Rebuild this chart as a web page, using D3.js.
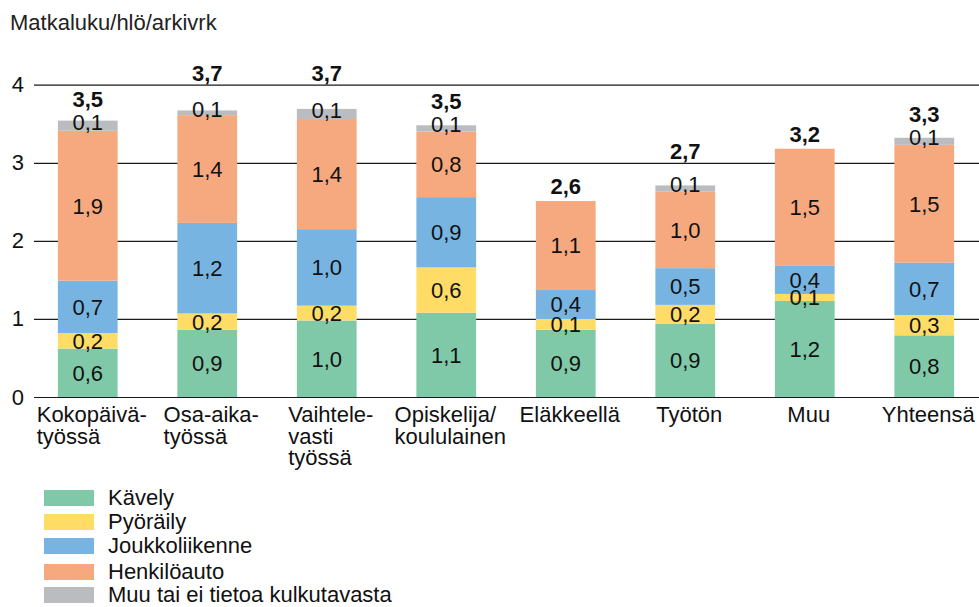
<!DOCTYPE html>
<html>
<head>
<meta charset="utf-8">
<script src="https://cdn.jsdelivr.net/npm/d3@7"></script>
<style>
  body { margin: 0; background: #fff; }
  svg text { font-family: "Liberation Sans", Arial, sans-serif; fill: #111; }
</style>
</head>
<body>
<svg id="chart" width="979" height="607"></svg>
<script>
// categories (line breaks as in the original)
var categories = [
	["Kokopäivä-", "työssä"],
	["Osa-aika-", "työssä"],
	["Vaihtele-", "vasti", "työssä"],
	["Opiskelija/", "koululainen"],
	["Eläkkeellä"],
	["Työtön"],
	["Muu"],
	["Yhteensä"]
];
var seriesNames = ["Kävely", "Pyöräily", "Joukkoliikenne", "Henkilöauto", "Muu tai ei tietoa kulkutavasta"];
var kavely      = [0.62, 0.86, 0.98, 1.08, 0.86, 0.94, 1.23, 0.79];
var pyoraily    = [0.20, 0.21, 0.19, 0.58, 0.14, 0.24, 0.09, 0.26];
var joukko      = [0.67, 1.16, 0.98, 0.90, 0.37, 0.47, 0.36, 0.67];
var henkiloauto = [1.92, 1.38, 1.41, 0.84, 1.14, 0.98, 1.50, 1.51];
var muuTieto    = [0.13, 0.06, 0.13, 0.08, 0.00, 0.08, 0.00, 0.09];
var totals      = [3.5, 3.7, 3.7, 3.5, 2.6, 2.7, 3.2, 3.3];
var yTicks      = [0, 1, 2, 3, 4];
var colors = ["#7fc9a9", "#fedc66", "#77b4e2", "#f6a97f", "#bbbcc0"];

var seriesData = [kavely, pyoraily, joukko, henkiloauto, muuTieto];

var fiLocale = d3.formatLocale({decimal: ",", thousands: " ", grouping: [3], currency: ["", " €"]});
var fmt = fiLocale.format(".1f");
var fontSize = "22px";

var svg = d3.select("#chart");

var xScale = d3.scaleBand().domain(d3.range(categories.length))
	.range([28, 984]).paddingInner(0.5).paddingOuter(0.25);
var yScale = d3.scaleLinear().domain([0, 4]).range([397, 84.7]);

// title
svg.append("text")
	.attr("x", 10).attr("y", 30)
	.style("font-size", fontSize).style("fill", "#222")
	.text("Matkaluku/hlö/arkivrk");

// grid + y labels
var yAxis = d3.axisLeft(yScale).tickValues(yTicks).tickSize(-945).tickPadding(10)
	.tickFormat(d3.format("d"));
var gy = svg.append("g").attr("class", "y axis")
	.attr("transform", "translate(34,0)")
	.call(yAxis);
gy.select(".domain").remove();
gy.selectAll(".tick line").attr("stroke", "#1a1a1a").attr("stroke-width", 1.2);
gy.selectAll(".tick text").style("font-size", fontSize).style("font-family", "Liberation Sans, Arial, sans-serif").attr("fill", "#111");

// stacked data
var rows = categories.map(function(c, i) {
	var r = {};
	seriesData.forEach(function(s, k) { r["s" + k] = s[i]; });
	return r;
});
var keys = seriesData.map(function(s, k) { return "s" + k; });
var stacked = d3.stack().keys(keys)(rows);

var layers = svg.selectAll(".layer")
	.data(stacked)
	.enter().append("g")
	.attr("class", "layer")
	.attr("fill", function(d, k) { return colors[k]; });

layers.selectAll("rect")
	.data(function(d) { return d; })
	.enter().append("rect")
	.attr("x", function(d, i) { return xScale(i); })
	.attr("width", xScale.bandwidth())
	.attr("y", function(d) { return yScale(d[1]); })
	.attr("height", function(d) { return yScale(d[0]) - yScale(d[1]); });

// segment labels
var grayCenters = [];
stacked.forEach(function(layer, k) {
	layer.forEach(function(d, i) {
		var v = d[1] - d[0];
		if (v <= 0) return;
		var c = (yScale(d[0]) + yScale(d[1])) / 2;
		if (k === 4) { c = c - 4; grayCenters[i] = c; }
		svg.append("text")
			.attr("x", xScale(i) + xScale.bandwidth() / 2)
			.attr("y", c)
			.attr("dy", "0.36em")
			.attr("text-anchor", "middle")
			.style("font-size", fontSize)
			.text(fmt(v));
	});
});

// totals above bars, moved above a gridline if they would cross it
var topLayer = stacked[stacked.length - 1];
totals.forEach(function(t, i) {
	var c;
	if (grayCenters[i] !== undefined) c = grayCenters[i] - 23;
	else c = yScale(topLayer[i][1]) - 15;
	yTicks.forEach(function(tv) {
		var g = yScale(tv);
		if (Math.abs(c - g) < 12) c = g - 12;
	});
	svg.append("text")
		.attr("x", xScale(i) + xScale.bandwidth() / 2)
		.attr("y", c)
		.attr("dy", "0.36em")
		.attr("text-anchor", "middle")
		.style("font-size", fontSize)
		.style("font-weight", "bold")
		.text(fmt(t));
});

// category labels: left-aligned block centred below the bar
categories.forEach(function(lines, i) {
	var t = svg.append("text")
		.style("font-size", fontSize);
	lines.forEach(function(l, j) {
		t.append("tspan").attr("y", 422 + j * 21.5).text(l);
	});
	var w = 0;
	t.selectAll("tspan").each(function() { w = Math.max(w, this.getComputedTextLength()); });
	var x0 = xScale(i) + xScale.bandwidth() / 2 + 4 - w / 2;
	t.selectAll("tspan").attr("x", x0);
});

// legend
var legendRowY = [490, 514, 538, 564, 587];
var legend = svg.append("g").selectAll("g")
	.data(seriesNames)
	.enter().append("g")
	.attr("transform", function(d, i) { return "translate(44," + legendRowY[i] + ")"; });
legend.append("rect")
	.attr("width", 50).attr("height", 16)
	.attr("fill", function(d, i) { return colors[i]; });
legend.append("text")
	.attr("x", 64).attr("y", 7).attr("dy", "0.36em")
	.style("font-size", fontSize)
	.text(function(d) { return d; });
</script>
</body>
</html>
